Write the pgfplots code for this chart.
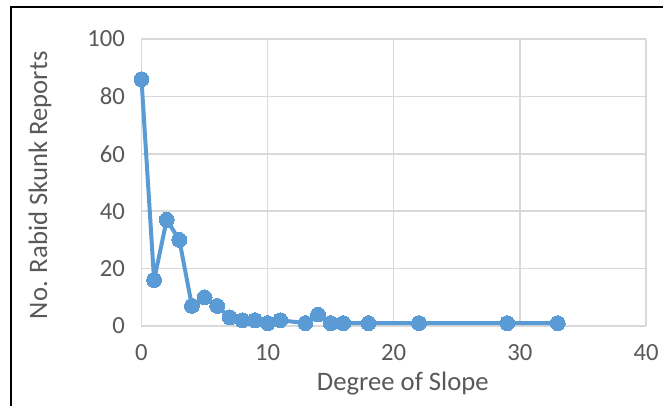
\documentclass[border=0pt]{standalone}
\usepackage{fontspec}
\setmainfont{Carlito}
\usepackage{pgfplots}
\pgfplotsset{compat=1.18}
\definecolor{seriesblue}{HTML}{5B9BD5}
\definecolor{textgray}{HTML}{595959}
\definecolor{gridgray}{HTML}{D9D9D9}
\definecolor{axisgray}{HTML}{BFBFBF}

\pgfplotstableread{
slope reports
0  86
1  16
2  37
3  30
4  7
5  10
6  7
7  3
8  2
9  2
10 1
11 2
13 1
14 4
15 1
16 1
18 1
22 1
29 1
33 1
}\skunkdata

\begin{document}
\begin{tikzpicture}
\useasboundingbox (0pt,0pt) rectangle (497.25pt,304.5pt);
% chart frame
\draw[black, line width=1.5pt] (8.25pt,-20pt) -- (8.25pt,298.9pt) -- (520pt,298.9pt);
\begin{axis}[
  at={(106.1pt,60pt)}, anchor=south west,
  scale only axis,
  width=378.4pt, height=215.25pt,
  xmin=0, xmax=40, ymin=0, ymax=100,
  xtick={0,10,...,40}, ytick={0,20,...,100},
  grid=major,
  major grid style={gridgray, line width=1.1pt},
  axis line style={draw=none},
  axis x line*=bottom,
  x axis line style={axisgray, line width=1.1pt},
  tick style={draw=none},
  tick label style={textgray, font=\fontsize{18.5}{21}\selectfont,
    /pgf/number format/assume math mode=true},
  yticklabel style={xshift=-9pt},
  xticklabel style={yshift=-10pt},
  label style={textgray, font=\fontsize{20}{23}\selectfont},
  xlabel={Degree of Slope},
  ylabel={No. Rabid Skunk Reports},
  xlabel style={at={(axis description cs:0.518,-0.2)}, anchor=center},
  ylabel style={at={(axis description cs:-0.201,0.49)}, anchor=center},
  clip=false,
]
\addplot[seriesblue, line width=3pt, line join=round, mark=*, mark size=5.6pt,
  mark options={fill=seriesblue, draw=seriesblue, line width=0pt}]
  table[x=slope, y=reports] {\skunkdata};
\end{axis}
\end{tikzpicture}
\end{document}
